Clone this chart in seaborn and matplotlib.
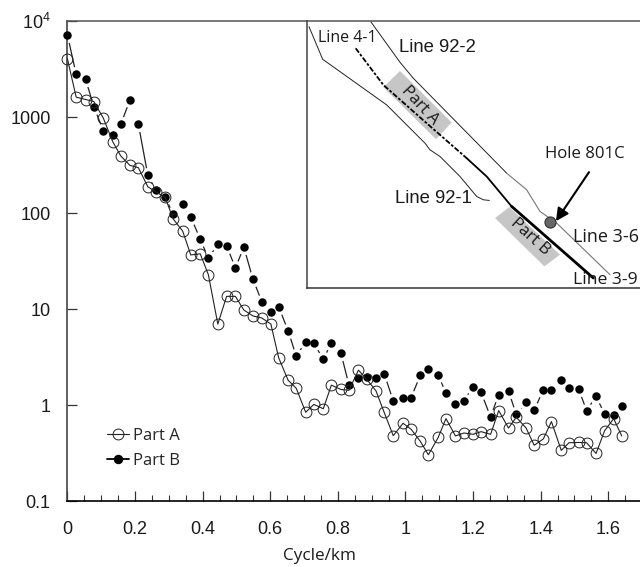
import matplotlib
matplotlib.use('Agg')
import matplotlib.pyplot as plt
from matplotlib.lines import Line2D
from matplotlib.patches import Polygon
import pandas as pd
import seaborn as sns

cycle_km = [0.0, 0.026, 0.054, 0.078, 0.106, 0.134, 0.158, 0.185, 0.210, 0.238, 0.261, 0.289, 0.313, 0.341, 0.365, 0.393,
            0.417, 0.445, 0.471, 0.497, 0.522, 0.549, 0.575, 0.602, 0.625, 0.653, 0.677, 0.705, 0.729, 0.757, 0.781, 0.809,
            0.833, 0.861, 0.885, 0.913, 0.937, 0.964, 0.993, 1.017, 1.044, 1.068, 1.097, 1.120, 1.148, 1.173, 1.200, 1.224,
            1.252, 1.276, 1.305, 1.328, 1.357, 1.381, 1.408, 1.432, 1.461, 1.484, 1.513, 1.536, 1.564, 1.589, 1.616, 1.640]
part_a = [4045, 1611, 1523, 1451, 980, 555, 393, 314, 297, 188, 167, 146, 87, 65, 36.7, 37.7,
          22.9, 7.0, 13.6, 13.6, 9.8, 8.5, 8.1, 7.0, 3.12, 1.82, 1.50, 0.845, 1.02, 0.92, 1.62, 1.46,
          1.43, 2.32, 1.87, 1.41, 0.845, 0.482, 0.649, 0.562, 0.421, 0.305, 0.463, 0.726, 0.479, 0.514, 0.498, 0.531,
          0.498, 0.879, 0.579, 0.750, 0.579, 0.383, 0.446, 0.676, 0.339, 0.407, 0.410, 0.407, 0.315, 0.540, 0.726, 0.479]
part_b = [7195, 2775, 2462, 1288, 723, 646, 842, 1500, 842, 247, 175, 146, 98, 124, 91, 53.6,
          33.9, 47.5, 45.6, 26.9, 44.2, 20.5, 12.0, 9.4, 10.6, 5.97, 3.24, 4.58, 4.40, 3.02, 4.43, 3.52,
          1.62, 1.90, 1.96, 1.90, 2.14, 1.11, 1.20, 1.20, 2.06, 2.39, 2.04, 1.35, 1.02, 1.12, 1.55, 1.36,
          0.755, 1.29, 1.40, 0.805, 1.07, 0.887, 1.45, 1.45, 1.82, 1.52, 1.46, 0.879, 1.24, 0.813, 0.787, 0.984]
part_b_break = 8  # no line joins the points either side of this index

x_ticks = [0, 0.2, 0.4, 0.6, 0.8, 1, 1.2, 1.4, 1.6]
x_tick_labels = ['0', '0.2', '0.4', '0.6', '0.8', '1', '1.2', '1.4', '1.6']
x_minor = [i * 0.05 for i in range(1, 34) if i % 4 != 0]
y_ticks = [0.1, 1, 10, 100, 1000, 10000]
y_tick_labels = ['0.1', '1', '10', '100', '1000', r'$\mathregular{10^{4}}$']

# map inset, in its own sketch units (y runs downwards)
line_92_2_x = [213, 300, 340, 620]
line_92_2_y = [66, 187, 235, 520]
line_3_6_x = [620, 680, 720, 770, 930]
line_3_6_y = [520, 570, 635, 670, 825]
line_92_1_x = [27, 68, 260, 375, 390, 420, 480, 530, 550, 568]
line_92_1_y = [80, 178, 315, 430, 450, 470, 530, 590, 600, 602]
line_4_1_x = [167, 250, 380, 500]
line_4_1_y = [145, 255, 370, 475]
line_mid_x = [500, 560, 635]
line_mid_y = [475, 530, 620]
line_3_9_x = [635, 880]
line_3_9_y = [620, 835]
part_a_box = [(300, 213), (455, 368), (408, 418), (250, 262)]
part_b_box = [(628, 622), (780, 765), (733, 800), (585, 655)]

sns.set_style('ticks')
plt.rcParams['font.family'] = ['Liberation Sans', 'DejaVu Sans']
plt.rcParams['mathtext.default'] = 'regular'

fig = plt.figure(figsize=(6.4, 5.67), dpi=100)
ax = fig.add_axes([67.4 / 640, 1 - 501.3 / 567, 1 - 67.4 / 640, 480.3 / 567])

df = pd.DataFrame({'cycle': cycle_km, 'a': part_a, 'b': part_b})

# Part B line is broken around each dot, so white dots go under the black ones
for chunk in [df.iloc[:part_b_break], df.iloc[part_b_break:]]:
    sns.lineplot(data=chunk, x='cycle', y='b', ax=ax, color='#222222', lw=0.9, marker='o', ms=11,
                 mfc='white', mec='white', mew=0, estimator=None, sort=False, clip_on=False, zorder=2)
sns.scatterplot(data=df, x='cycle', y='b', ax=ax, color='black', s=37, linewidth=0, clip_on=False, zorder=3)
sns.lineplot(data=df, x='cycle', y='a', ax=ax, color='#222222', lw=0.8, marker='o', ms=7.8, mfc='none',
             mec='#222222', mew=0.7, estimator=None, sort=False, clip_on=False, zorder=4)

ax.set_yscale('log')
ax.set_xlim(0, 1.694)
ax.set_ylim(0.1, 10000)
ax.set_xticks(x_ticks)
ax.set_xticklabels(x_tick_labels)
ax.set_xticks(x_minor, minor=True)
ax.set_yticks(y_ticks)
ax.set_yticklabels(y_tick_labels)
ax.yaxis.set_minor_locator(matplotlib.ticker.NullLocator())
ax.tick_params(axis='both', which='major', direction='in', length=7.5, width=0.9, color='#333333', labelsize=13,
               labelcolor='#1a1a1a')
ax.tick_params(axis='x', which='major', pad=14.5)
ax.tick_params(axis='y', which='major', pad=12)
ax.tick_params(axis='x', which='minor', direction='in', length=4, width=0.8, color='#333333')
ax.set_xlabel('Cycle/km', family='Open Sans', fontsize=12.3, color='#1a1a1a')
ax.xaxis.set_label_coords((320 - 67.4) / 572.6, -0.097)
ax.set_ylabel('')

ax.spines['right'].set_visible(False)
ax.spines['top'].set_linewidth(1.1)
ax.spines['top'].set_color('#555555')
ax.spines['left'].set_linewidth(1.2)
ax.spines['left'].set_color('#444444')
ax.spines['bottom'].set_linewidth(1.2)
ax.spines['bottom'].set_color('black')

handles = [
    Line2D([], [], color='#222222', lw=0.8, marker='o', ms=7.8, mfc='none', mec='#222222', mew=0.7),
    Line2D([], [], color='black', lw=1.3, marker='o', ms=5.8, mfc='black', mec='black'),
]
ax.legend(handles, ['Part A', 'Part B'], frameon=False, loc='lower left', bbox_to_anchor=(0.069, 0.068), handlelength=1.3,
          handletextpad=0.25, labelspacing=0.52, borderaxespad=0, borderpad=0,
          prop={'family': 'Open Sans', 'size': 12})

# map inset
inset = fig.add_axes([307 / 640, 1 - 288 / 567, 333 / 640, 267 / 567], facecolor='none')
inset.set_xlim(21, 1020)
inset.set_ylim(865, 63)
inset.set_xticks([])
inset.set_yticks([])
inset.spines['top'].set_visible(False)
inset.spines['right'].set_visible(False)
inset.spines['left'].set_linewidth(1.1)
inset.spines['left'].set_color('#444444')
inset.spines['bottom'].set_linewidth(1.1)
inset.spines['bottom'].set_color('#333333')

inset.add_patch(Polygon(part_a_box, fc='#c6c6c6', ec='none', zorder=1))
inset.add_patch(Polygon(part_b_box, fc='#c6c6c6', ec='none', zorder=1))
sns.lineplot(x=line_92_2_x, y=line_92_2_y, ax=inset, color='#222222', lw=0.7, estimator=None, sort=False, zorder=2)
sns.lineplot(x=line_3_6_x, y=line_3_6_y, ax=inset, color='#777777', lw=0.8, estimator=None, sort=False, zorder=2)
sns.lineplot(x=line_92_1_x, y=line_92_1_y, ax=inset, color='#222222', lw=0.7, estimator=None, sort=False, zorder=2)
sns.lineplot(x=line_4_1_x, y=line_4_1_y, ax=inset, color='black', lw=1.3, ls=(0, (3, 1, 1.5, 1)), estimator=None,
             sort=False, zorder=3)
sns.lineplot(x=line_mid_x, y=line_mid_y, ax=inset, color='black', lw=1.3, estimator=None, sort=False, zorder=3)
sns.lineplot(x=line_3_9_x, y=line_3_9_y, ax=inset, color='black', lw=2.0, estimator=None, sort=False, zorder=3)
inset.set_xlabel('')
inset.set_ylabel('')

inset.plot([750], [668], marker='o', ms=8, mfc='#666666', mec='#333333', mew=0.8, zorder=4)
inset.annotate('', xy=(768, 664), xytext=(867, 517), zorder=5,
               arrowprops=dict(arrowstyle='-|>,head_width=0.38,head_length=0.75', color='black', lw=1.5,
                               shrinkA=0, shrinkB=0))

inset.text(55, 113, 'Line 4-1', family='Open Sans', fontsize=11.5, va='center', color='#1a1a1a', zorder=6)
inset.text(298, 142, 'Line 92-2', fontsize=13.3, va='center', color='#1a1a1a')
inset.text(285, 595, 'Line 92-1', fontsize=13.3, va='center', color='#1a1a1a')
inset.text(735, 463, 'Hole 801C', family='Open Sans', fontsize=12.1, va='center', color='#1a1a1a')
inset.text(820, 712, 'Line 3-6', family='Open Sans', fontsize=13, va='center', color='#1a1a1a', clip_on=False)
inset.text(820, 842, 'Line 3-9', family='Open Sans', fontsize=12.6, va='center', color='#1a1a1a', clip_on=False)
inset.text(360, 315, 'Part A', family='Open Sans', fontsize=12, rotation=-47, ha='center', va='center',
           rotation_mode='anchor', color='#1a1a1a', zorder=6)
inset.text(690, 712, 'Part B', family='Open Sans', fontsize=12, rotation=-42, ha='center', va='center',
           rotation_mode='anchor', color='#1a1a1a', zorder=6)

fig.savefig('out.png', dpi=100)
